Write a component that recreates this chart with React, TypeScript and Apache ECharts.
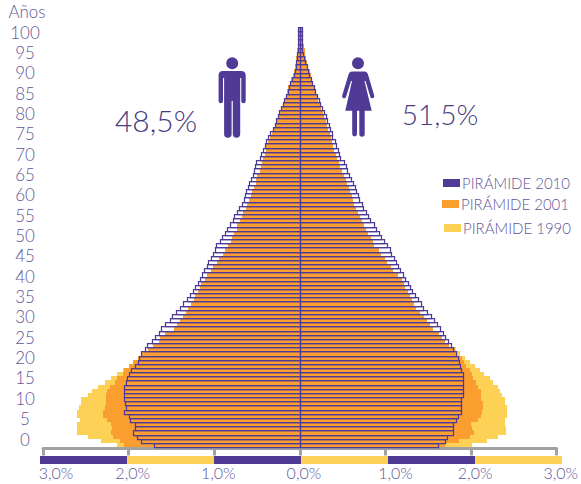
import React, { useEffect, useRef } from "react";
import * as echarts from "echarts";

const ages: string[] = Array.from({ length: 101 }, (_, i) => String(i));
const SERIES_2010 = "PIRÁMIDE 2010";
const SERIES_2001 = "PIRÁMIDE 2001";
const SERIES_1990 = "PIRÁMIDE 1990";
const TICK_LABELS: Record<string, string> = {
  "-3": "3,0%", "-2": "2,0%", "-1": "1,0%", "0": "0,0%", "1": "1,0%", "2": "2,0%", "3": "3,0%",
};
const MALE_SHARE = "48,5%";
const FEMALE_SHARE = "51,5%";

// Percentages of the population, by single year of age (0..100)
const men2010 = [
  1.70, 1.86, 1.90, 1.95, 1.93, 1.92, 1.98, 2.00, 2.05, 2.03,
  2.04, 2.05, 2.05, 2.05, 2.05, 2.03, 2.02, 2.00, 1.97, 1.93,
  1.89, 1.88, 1.86, 1.81, 1.78, 1.73, 1.69, 1.65, 1.62, 1.57,
  1.52, 1.49, 1.45, 1.40, 1.37, 1.32, 1.28, 1.25, 1.22, 1.19,
  1.17, 1.14, 1.12, 1.09, 1.07, 1.04, 1.02, 0.99, 0.98, 0.93,
  0.91, 0.88, 0.85, 0.82, 0.78, 0.77, 0.74, 0.71, 0.68, 0.65,
  0.64, 0.63, 0.60, 0.59, 0.57, 0.55, 0.53, 0.52, 0.51, 0.47,
  0.45, 0.43, 0.41, 0.39, 0.37, 0.35, 0.31, 0.29, 0.275, 0.25,
  0.24, 0.22, 0.20, 0.18, 0.16, 0.14, 0.13, 0.11, 0.09, 0.07,
  0.055, 0.047, 0.04, 0.035, 0.03, 0.027, 0.024, 0.02, 0.02, 0.02, 0.02,
];
const women2010 = [
  1.61, 1.70, 1.72, 1.79, 1.79, 1.79, 1.82, 1.85, 1.88, 1.88,
  1.88, 1.88, 1.90, 1.91, 1.91, 1.91, 1.91, 1.90, 1.88, 1.87,
  1.86, 1.85, 1.82, 1.79, 1.76, 1.73, 1.69, 1.67, 1.64, 1.60,
  1.57, 1.53, 1.49, 1.44, 1.41, 1.38, 1.35, 1.31, 1.29, 1.26,
  1.23, 1.20, 1.17, 1.15, 1.12, 1.10, 1.07, 1.05, 1.02, 0.985,
  0.95, 0.92, 0.885, 0.86, 0.82, 0.79, 0.77, 0.74, 0.72, 0.69,
  0.68, 0.655, 0.64, 0.62, 0.60, 0.57, 0.555, 0.535, 0.51, 0.47,
  0.46, 0.44, 0.42, 0.41, 0.38, 0.37, 0.35, 0.34, 0.32, 0.30,
  0.28, 0.26, 0.24, 0.22, 0.20, 0.18, 0.16, 0.14, 0.13, 0.11,
  0.10, 0.08, 0.055, 0.047, 0.035, 0.03, 0.027, 0.025, 0.02, 0.02, 0.02,
];
const men2001 = [
  2.05, 2.10, 2.18, 2.21, 2.19, 2.21, 2.25, 2.30, 2.30, 2.28,
  2.27, 2.27, 2.27, 2.25, 2.22, 2.16, 2.14, 2.07, 2.05, 2.00,
  1.95, 1.89, 1.85, 1.77, 1.72, 1.64, 1.63, 1.57, 1.47, 1.43,
  1.40, 1.36, 1.33, 1.31, 1.27, 1.24, 1.23, 1.19, 1.17, 1.15,
  1.11, 1.08, 1.04, 1.01, 0.97, 0.94, 0.90, 0.87, 0.84, 0.81,
  0.79, 0.77, 0.74, 0.73, 0.70, 0.67, 0.66, 0.63, 0.62, 0.59,
  0.57, 0.56, 0.53, 0.515, 0.51, 0.50, 0.465, 0.45, 0.44, 0.43,
  0.41, 0.40, 0.39, 0.37, 0.35, 0.33, 0.30, 0.28, 0.265, 0.245,
  0.23, 0.215, 0.20, 0.18, 0.165, 0.15, 0.135, 0.12, 0.10, 0.085,
  0.07, 0.058, 0.05, 0.043, 0.039, 0.035, 0.027, 0.02, 0.015, 0.01, 0.01,
];
const women2001 = [
  1.70, 1.86, 1.99, 2.03, 2.01, 2.00, 2.08, 2.11, 2.13, 2.14,
  2.14, 2.12, 2.11, 2.11, 2.08, 2.06, 2.02, 2.01, 1.99, 1.94,
  1.915, 1.895, 1.84, 1.81, 1.74, 1.70, 1.66, 1.62, 1.56, 1.52,
  1.48, 1.45, 1.40, 1.36, 1.33, 1.31, 1.29, 1.26, 1.23, 1.22,
  1.19, 1.15, 1.09, 1.06, 1.02, 0.99, 0.95, 0.92, 0.865, 0.85,
  0.825, 0.80, 0.77, 0.75, 0.72, 0.70, 0.68, 0.66, 0.63, 0.62,
  0.605, 0.58, 0.57, 0.545, 0.535, 0.51, 0.49, 0.47, 0.46, 0.43,
  0.42, 0.40, 0.39, 0.38, 0.365, 0.35, 0.33, 0.32, 0.30, 0.285,
  0.27, 0.25, 0.235, 0.215, 0.20, 0.185, 0.17, 0.155, 0.14, 0.125,
  0.115, 0.10, 0.085, 0.075, 0.065, 0.055, 0.05, 0.04, 0.035, 0.03, 0.02,
];
const men1990 = [
  2.13, 2.32, 2.47, 2.60, 2.60, 2.60, 2.57, 2.60, 2.60, 2.58,
  2.56, 2.56, 2.48, 2.43, 2.36, 2.28, 2.21, 2.14, 2.07, 2.00,
  1.94, 1.87, 1.82, 1.75, 1.68, 1.60, 1.56, 1.50, 1.42, 1.38,
  1.33, 1.30, 1.26, 1.22, 1.19, 1.15, 1.12, 1.08, 1.05, 1.02,
  1.00, 0.97, 0.94, 0.90, 0.87, 0.85, 0.82, 0.79, 0.76, 0.74,
  0.71, 0.69, 0.67, 0.65, 0.63, 0.60, 0.59, 0.56, 0.54, 0.52,
  0.50, 0.49, 0.47, 0.45, 0.43, 0.41, 0.40, 0.38, 0.37, 0.36,
  0.34, 0.32, 0.30, 0.29, 0.27, 0.25, 0.24, 0.23, 0.21, 0.20,
  0.18, 0.17, 0.16, 0.14, 0.13, 0.12, 0.10, 0.09, 0.08, 0.07,
  0.06, 0.05, 0.04, 0.03, 0.03, 0.02, 0.02, 0.01, 0.01, 0.01, 0.01,
];
const women1990 = [
  2.01, 2.18, 2.31, 2.41, 2.41, 2.40, 2.40, 2.42, 2.42, 2.42,
  2.40, 2.39, 2.36, 2.34, 2.31, 2.26, 2.22, 2.15, 2.10, 2.04,
  1.99, 1.93, 1.87, 1.82, 1.72, 1.67, 1.62, 1.58, 1.52, 1.48,
  1.44, 1.41, 1.37, 1.33, 1.30, 1.27, 1.25, 1.22, 1.19, 1.17,
  1.14, 1.11, 1.06, 1.03, 0.99, 0.95, 0.92, 0.89, 0.84, 0.82,
  0.80, 0.77, 0.74, 0.72, 0.69, 0.67, 0.65, 0.63, 0.61, 0.59,
  0.57, 0.55, 0.53, 0.51, 0.50, 0.48, 0.46, 0.44, 0.43, 0.41,
  0.40, 0.38, 0.37, 0.35, 0.34, 0.32, 0.31, 0.29, 0.28, 0.26,
  0.25, 0.23, 0.21, 0.20, 0.18, 0.17, 0.15, 0.14, 0.13, 0.11,
  0.10, 0.09, 0.07, 0.06, 0.05, 0.05, 0.04, 0.03, 0.03, 0.02, 0.02,
];

const PURPLE = "#4f3b96";
const ORANGE = "#fa9f2f";
const YELLOW = "#fdd156";
const GRAY = "#a2a2a2";
const TEXT = "#62569a";
const TEXT_DARK = "#463b7f";
const FONT = "Lato";

const MAN_PATH =
  "M14 0.3A6 6 0 1 1 14 12.3A6 6 0 1 1 14 0.3Z" +
  "M4.5 14H23Q27.5 14 27.5 18.5V44A2.2 2.2 0 0 1 23.1 44V21H22V77A3.7 3.7 0 0 1 14.6 77V44H13.4V77A3.7 3.7 0 0 1 5.9 77V21H4.8V44A2.2 2.2 0 0 1 0.4 44V18.5Q0.4 14 4.5 14Z";
const WOMAN_PATH =
  "M16 0.3A6 6 0 1 1 16 12.3A6 6 0 1 1 16 0.3Z" +
  "M10 14.5H22.5Q25 14.5 26 17.5L32.2 38.5A2 2 0 0 1 28.4 40L23.5 24H22.5L29.7 53.7H22.7V77A2.7 2.7 0 0 1 17.3 77V53.7H15V77A2.4 2.4 0 0 1 10.2 77V53.7H3.3L10 24H9L4 40A2 2 0 0 1 0.2 38.5L6.5 17.5Q7.5 14.5 10 14.5Z";

echarts.graphic.registerShape("manIcon", echarts.graphic.extendPath(MAN_PATH, {}) as any);
echarts.graphic.registerShape("womanIcon", echarts.graphic.extendPath(WOMAN_PATH, {}) as any);

const CRISP_CSS = `path[fill="${ORANGE}"], path[fill="${YELLOW}"] { shape-rendering: crispEdges; }`;

function bars(name: string, values: number[], sign: number, color: string) {
  return {
    name,
    type: "bar",
    xAxisIndex: 0,
    yAxisIndex: 0,
    barWidth: "100%",
    barGap: "-100%",
    barCategoryGap: "0%",
    data: values.map((v) => sign * v),
    itemStyle: { color, borderWidth: 0 },
    emphasis: { disabled: true },
    silent: true,
  };
}

// 2010 is drawn as hollow bars; a custom series keeps the shared edges of
// neighbouring bars on one single line, snapped so every line has one weight.
function outlineBars(name: string, values: number[], sign: number, color: string) {
  return {
    name,
    type: "custom",
    xAxisIndex: 0,
    yAxisIndex: 0,
    silent: true,
    z: 5,
    itemStyle: { color },
    encode: { x: 0, y: 1 },
    data: values.map((v, i) => [sign * v, i]),
    renderItem: (_params: any, api: any) => {
      const base = api.coord([0, api.value(1)]);
      const tip = api.coord([api.value(0), api.value(1)]);
      const h = api.size([0, 1])[1];
      const top = Math.round(base[1] - h / 2);
      const bottom = Math.round(base[1] + h / 2);
      const left = Math.round(Math.min(base[0], tip[0]));
      const right = Math.round(Math.max(base[0], tip[0]));
      return {
        type: "rect",
        shape: {
          x: left + 0.5,
          y: top + 0.5,
          width: right - left,
          height: bottom - top,
        },
        style: { fill: "none", stroke: color, lineWidth: 1.25 },
      };
    },
  };
}

function legendAt(name: string, color: string, left: number, top: number) {
  return {
    left,
    top,
    orient: "horizontal",
    selectedMode: false,
    itemWidth: 17,
    itemHeight: 8,
    icon: "rect",
    padding: 0,
    data: [{ name, itemStyle: { color, borderWidth: 0 } }],
    textStyle: {
      color: TEXT,
      fontFamily: FONT,
      fontWeight: 300,
      fontSize: 15,
      padding: [0, 0, 0, -3],
    },
  };
}

const labelRich = (pad: number) => ({
  color: TEXT,
  fontFamily: FONT,
  fontWeight: 300,
  fontSize: 16,
  padding: [0, 0, 0, pad],
});

export default function App() {
  const ref = useRef<HTMLDivElement>(null);
  useEffect(() => {
    const chart = echarts.init(ref.current!, undefined, { renderer: "svg" });
    chart.setOption({
      animation: false,
      backgroundColor: "#ffffff",
      grid: [
        { left: 43, top: 27, width: 517, height: 420 },
        { left: 40, top: 456, width: 522, height: 8 },
        { left: 40, top: 32, width: 100, height: 407 },
      ],
      xAxis: [
        {
          gridIndex: 0,
          type: "value",
          min: -3,
          max: 3,
          interval: 1,
          offset: 1.5,
          splitLine: { show: false },
          axisLine: { show: true, onZero: false, lineStyle: { color: GRAY, width: 3 } },
          axisTick: { show: true, length: 7, lineStyle: { color: GRAY, width: 3 } },
          axisLabel: {
            color: TEXT,
            fontFamily: FONT,
            fontWeight: 300,
            fontSize: 16,
            margin: 16,
            padding: [0, 0, 0, 8],
            hideOverlap: false,
            rich: { first: labelRich(18), one: labelRich(12) },
            formatter: (v: number) => {
              const text = TICK_LABELS[String(v)];
              if (v === -3) return `{first|${text}}`;
              if (v === 1) return `{one|${text}}`;
              return text;
            },
          },
        },
        {
          gridIndex: 1,
          type: "value",
          min: -3,
          max: 3,
          interval: 1,
          axisLine: { show: false },
          axisTick: { show: false },
          axisLabel: { show: false },
          splitLine: { show: false },
          splitArea: { show: true, areaStyle: { color: [PURPLE, YELLOW], opacity: 1 } },
        },
        { gridIndex: 2, type: "value", min: 0, max: 1, show: false },
      ],
      yAxis: [
        {
          gridIndex: 0,
          type: "category",
          data: ages,
          boundaryGap: true,
          axisLine: { show: false },
          axisTick: { show: false },
          axisLabel: { show: false },
        },
        { gridIndex: 1, type: "value", min: 0, max: 1, show: false },
        {
          gridIndex: 2,
          type: "value",
          min: 0,
          max: 100,
          interval: 5,
          axisLine: { show: false },
          axisTick: { show: false },
          splitLine: { show: false },
          axisLabel: {
            color: TEXT,
            fontFamily: FONT,
            fontWeight: 300,
            fontSize: 17,
            align: "center",
            margin: 15,
          },
        },
      ],
      legend: [
        legendAt(SERIES_2010, PURPLE, 443, 175.5),
        legendAt(SERIES_2001, ORANGE, 442, 196.5),
        legendAt(SERIES_1990, YELLOW, 444, 220.5),
      ],
      series: [
        bars(SERIES_1990, men1990, -1, YELLOW),
        bars(SERIES_1990, women1990, 1, YELLOW),
        bars(SERIES_2001, men2001, -1, ORANGE),
        bars(SERIES_2001, women2001, 1, ORANGE),
        outlineBars(SERIES_2010, men2010, -1, PURPLE),
        outlineBars(SERIES_2010, women2010, 1, PURPLE),
      ],
      graphic: [
        {
          type: "text",
          x: 27,
          y: 11,
          style: {
            text: "Años",
            fill: TEXT,
            fontFamily: FONT,
            fontWeight: 300,
            fontSize: 17,
            textAlign: "center",
            textVerticalAlign: "middle",
          },
        },
        {
          type: "text",
          x: 156,
          y: 120,
          style: {
            text: MALE_SHARE,
            fill: TEXT_DARK,
            fontFamily: FONT,
            fontWeight: 300,
            fontSize: 30,
            textAlign: "center",
            textVerticalAlign: "middle",
          },
        },
        {
          type: "text",
          x: 440,
          y: 114,
          style: {
            text: FEMALE_SHARE,
            fill: TEXT_DARK,
            fontFamily: FONT,
            fontWeight: 300,
            fontSize: 28,
            textAlign: "center",
            textVerticalAlign: "middle",
          },
        },
        { type: "manIcon", x: 218.2, y: 57, style: { fill: PURPLE } },
        { type: "womanIcon", x: 342, y: 57, style: { fill: PURPLE } },
      ],
    });
    return () => chart.dispose();
  }, []);
  return (
    <>
      <style>{CRISP_CSS}</style>
      <div ref={ref} style={{ position: "absolute", left: 0, top: 0, width: 581, height: 484 }} />
    </>
  );
}
